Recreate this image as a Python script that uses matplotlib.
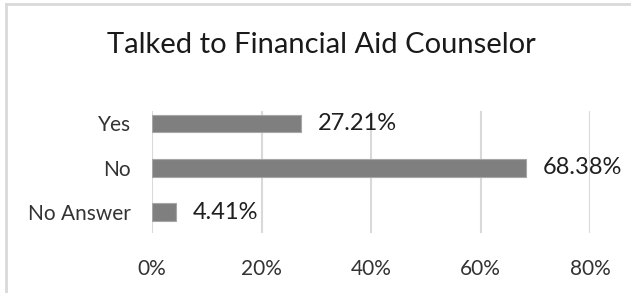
import matplotlib.pyplot as plt
from matplotlib.lines import Line2D
from matplotlib.ticker import FuncFormatter

plt.rcParams['font.family'] = ['Lato', 'DejaVu Sans']

# data
categories = ['Yes', 'No', 'No Answer']
shares = [0.2721, 0.6838, 0.0441]
share_labels = ['27.21%', '68.38%', '4.41%']
x_ticks = [0.0, 0.2, 0.4, 0.6, 0.8]

W, H = 631, 293
fig = plt.figure(figsize=(W / 100, H / 100), dpi=100)

# axes box in pixels (left, top, right, bottom)
left, top, right, bottom = 152, 111, 590, 233
ax = fig.add_axes([left / W, 1 - bottom / H, (right - left) / W, (bottom - top) / H])

ypos = list(range(len(categories)))
ax.barh(ypos, shares, height=0.4, color='#7f7f7f', edgecolor='#a6a6a6',
        linewidth=0.8, zorder=3)
for y, v, lab in zip(ypos, shares, share_labels):
    ax.text(v + 0.03, y, lab, va='center', ha='left', fontsize=17,
            color='#1f1f1f')

ax.set_xlim(0, 0.8)
ax.set_ylim(2.47, -0.28)
ax.set_xticks(x_ticks)
ax.xaxis.set_major_formatter(FuncFormatter(lambda v, p: f'{v * 100:.0f}%'))
ax.set_yticks(ypos)
ax.set_yticklabels(categories)
ax.tick_params(axis='both', length=0, labelsize=15, colors='#333333')
ax.tick_params(axis='x', pad=19)
ax.tick_params(axis='y', pad=15)
ax.grid(axis='x', color='#d9d9d9', linewidth=1.5, zorder=0)
for s in ax.spines.values():
    s.set_visible(False)

fig.text(321 / W, 1 - 45 / H, 'Talked to Financial Aid Counselor',
         ha='center', va='center', fontsize=21, color='#1a1a1a')

# chart frame (only top and left edges visible in the crop)
fig.add_artist(Line2D([6 / W, 1], [1 - 4 / H, 1 - 4 / H], color='#d9d9d9',
                      linewidth=2, transform=fig.transFigure))
fig.add_artist(Line2D([6 / W, 6 / W], [0, 1 - 4 / H], color='#d9d9d9',
                      linewidth=2, transform=fig.transFigure))

fig.savefig('out.png', dpi=100, facecolor='white')
